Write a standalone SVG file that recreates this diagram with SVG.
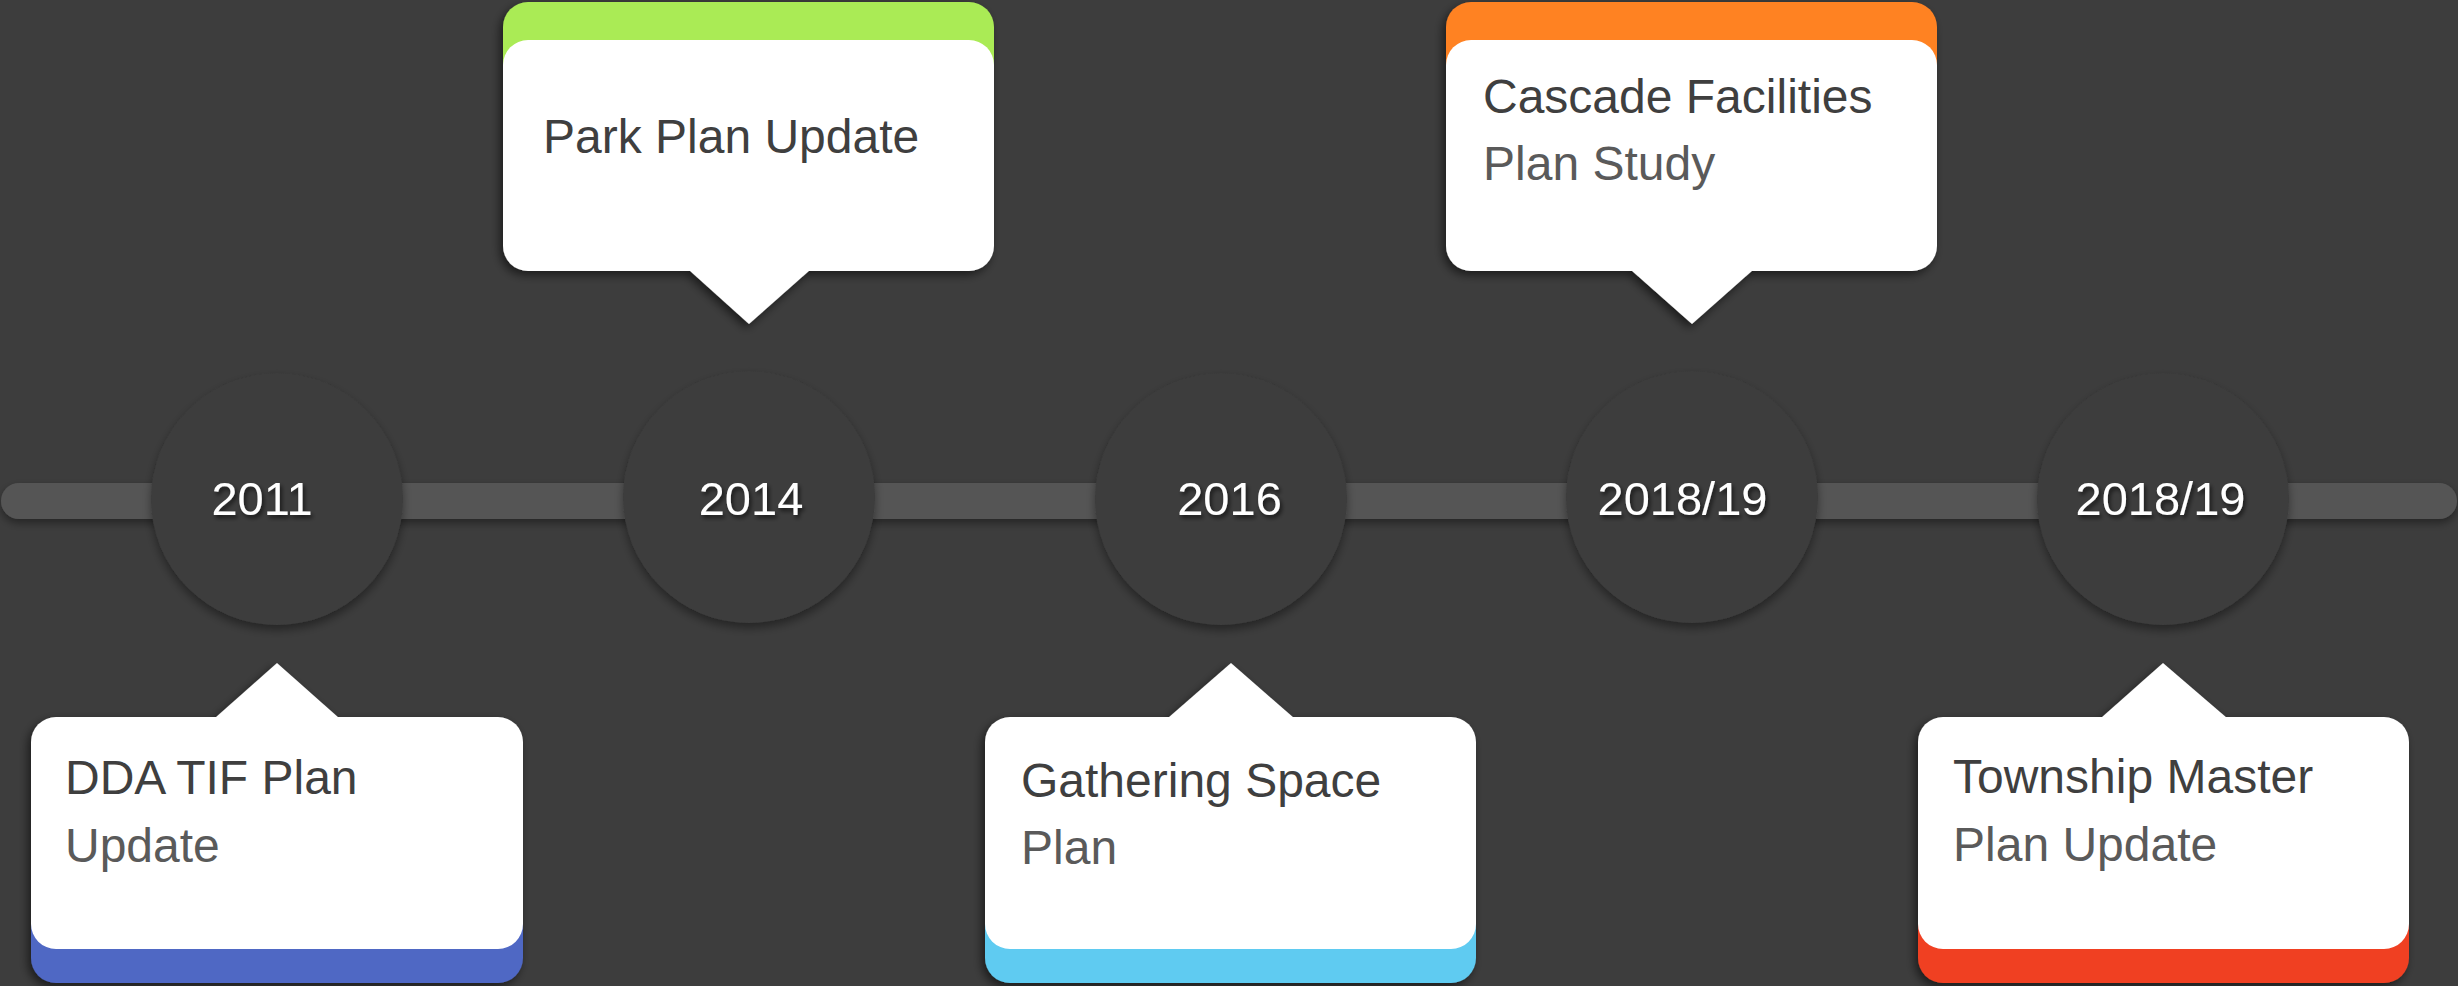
<svg xmlns="http://www.w3.org/2000/svg" width="2458" height="986" viewBox="0 0 2458 986">
  <defs>
    <filter id="cardShadow" x="-10%" y="-10%" width="120%" height="125%">
      <feDropShadow dx="-3" dy="4" stdDeviation="5" flood-color="#000" flood-opacity="0.55"/>
    </filter>
    <filter id="circleShadow" x="-15%" y="-15%" width="130%" height="135%">
      <feDropShadow dx="0" dy="5" stdDeviation="5" flood-color="#000" flood-opacity="0.4"/>
    </filter>
    <filter id="barShadow" x="-2%" y="-50%" width="104%" height="220%">
      <feDropShadow dx="0" dy="4" stdDeviation="4" flood-color="#000" flood-opacity="0.4"/>
    </filter>
    <filter id="textShadow" x="-20%" y="-30%" width="140%" height="170%">
      <feDropShadow dx="2" dy="3" stdDeviation="2" flood-color="#000" flood-opacity="0.6"/>
    </filter>
  </defs>
  <style>
    .bg { fill: #3d3d3d; }
    .bar { fill: #555555; }
    .circle { fill: #3c3c3c; }
    .year { font-family: "Liberation Sans", Arial, sans-serif; font-size: 47px; fill: #ffffff; text-anchor: middle; }
    .card { fill: #ffffff; }
    .t1 { font-family: "Liberation Sans", Arial, sans-serif; font-size: 48px; fill: #3f3f3f; }
    .t2 { font-family: "Liberation Sans", Arial, sans-serif; font-size: 48px; fill: #5a5a5a; }
  </style>
  <rect class="bg" x="0" y="0" width="2458" height="986"/>

  <g id="connectors">
    <rect class="bar" x="1" y="483" width="2456" height="36" rx="18" filter="url(#barShadow)"/>
  </g>

  <g id="year-2011">
    <circle class="circle" cx="277" cy="499" r="126" filter="url(#circleShadow)"/>
    <text class="year" x="262" y="515" filter="url(#textShadow)">2011</text>
  </g>
  <g id="year-2014">
    <circle class="circle" cx="749" cy="497" r="126" filter="url(#circleShadow)"/>
    <text class="year" x="751" y="515" filter="url(#textShadow)">2014</text>
  </g>
  <g id="year-2016">
    <circle class="circle" cx="1221" cy="499" r="126" filter="url(#circleShadow)"/>
    <text class="year" x="1229.5" y="515" filter="url(#textShadow)">2016</text>
  </g>
  <g id="year-2018-19-a">
    <circle class="circle" cx="1692" cy="497" r="126" filter="url(#circleShadow)"/>
    <text class="year" x="1682.5" y="515" filter="url(#textShadow)">2018/19</text>
  </g>
  <g id="year-2018-19-b">
    <circle class="circle" cx="2163" cy="499" r="126" filter="url(#circleShadow)"/>
    <text class="year" x="2160.5" y="515" filter="url(#textShadow)">2018/19</text>
  </g>

  <g id="card-dda">
    <g filter="url(#cardShadow)">
      <rect x="31" y="850" width="492" height="133" rx="25" fill="#4f67c4"/>
      <rect class="card" x="31" y="717" width="492" height="232" rx="25"/>
      <polygon class="card" points="215,718 277,663 339,718"/>
    </g>
    <text class="t1" x="65" y="794">DDA TIF Plan</text>
    <text class="t2" x="65" y="862">Update</text>
  </g>

  <g id="card-park">
    <g filter="url(#cardShadow)">
      <rect x="503" y="2" width="491" height="130" rx="25" fill="#aaeb55"/>
      <rect class="card" x="503" y="40" width="491" height="231" rx="25"/>
      <polygon class="card" points="689,270 749,324 810,270"/>
    </g>
    <text class="t1" x="543" y="153">Park Plan Update</text>
  </g>

  <g id="card-gathering">
    <g filter="url(#cardShadow)">
      <rect x="985" y="850" width="491" height="133" rx="25" fill="#5fcbf1"/>
      <rect class="card" x="985" y="717" width="491" height="232" rx="25"/>
      <polygon class="card" points="1168,718 1231,663 1294,718"/>
    </g>
    <text class="t1" x="1021" y="797">Gathering Space</text>
    <text class="t2" x="1021" y="864">Plan</text>
  </g>

  <g id="card-cascade">
    <g filter="url(#cardShadow)">
      <rect x="1446" y="2" width="491" height="130" rx="25" fill="#ff8224"/>
      <rect class="card" x="1446" y="40" width="491" height="231" rx="25"/>
      <polygon class="card" points="1631,270 1692,324 1753,270"/>
    </g>
    <text class="t1" x="1483" y="113">Cascade Facilities</text>
    <text class="t2" x="1483" y="180">Plan Study</text>
  </g>

  <g id="card-township">
    <g filter="url(#cardShadow)">
      <rect x="1918" y="850" width="491" height="133" rx="25" fill="#f04124"/>
      <rect class="card" x="1918" y="717" width="491" height="232" rx="25"/>
      <polygon class="card" points="2101,718 2163,663 2227,718"/>
    </g>
    <text class="t1" x="1953" y="793">Township Master</text>
    <text class="t2" x="1953" y="861">Plan Update</text>
  </g>
</svg>
